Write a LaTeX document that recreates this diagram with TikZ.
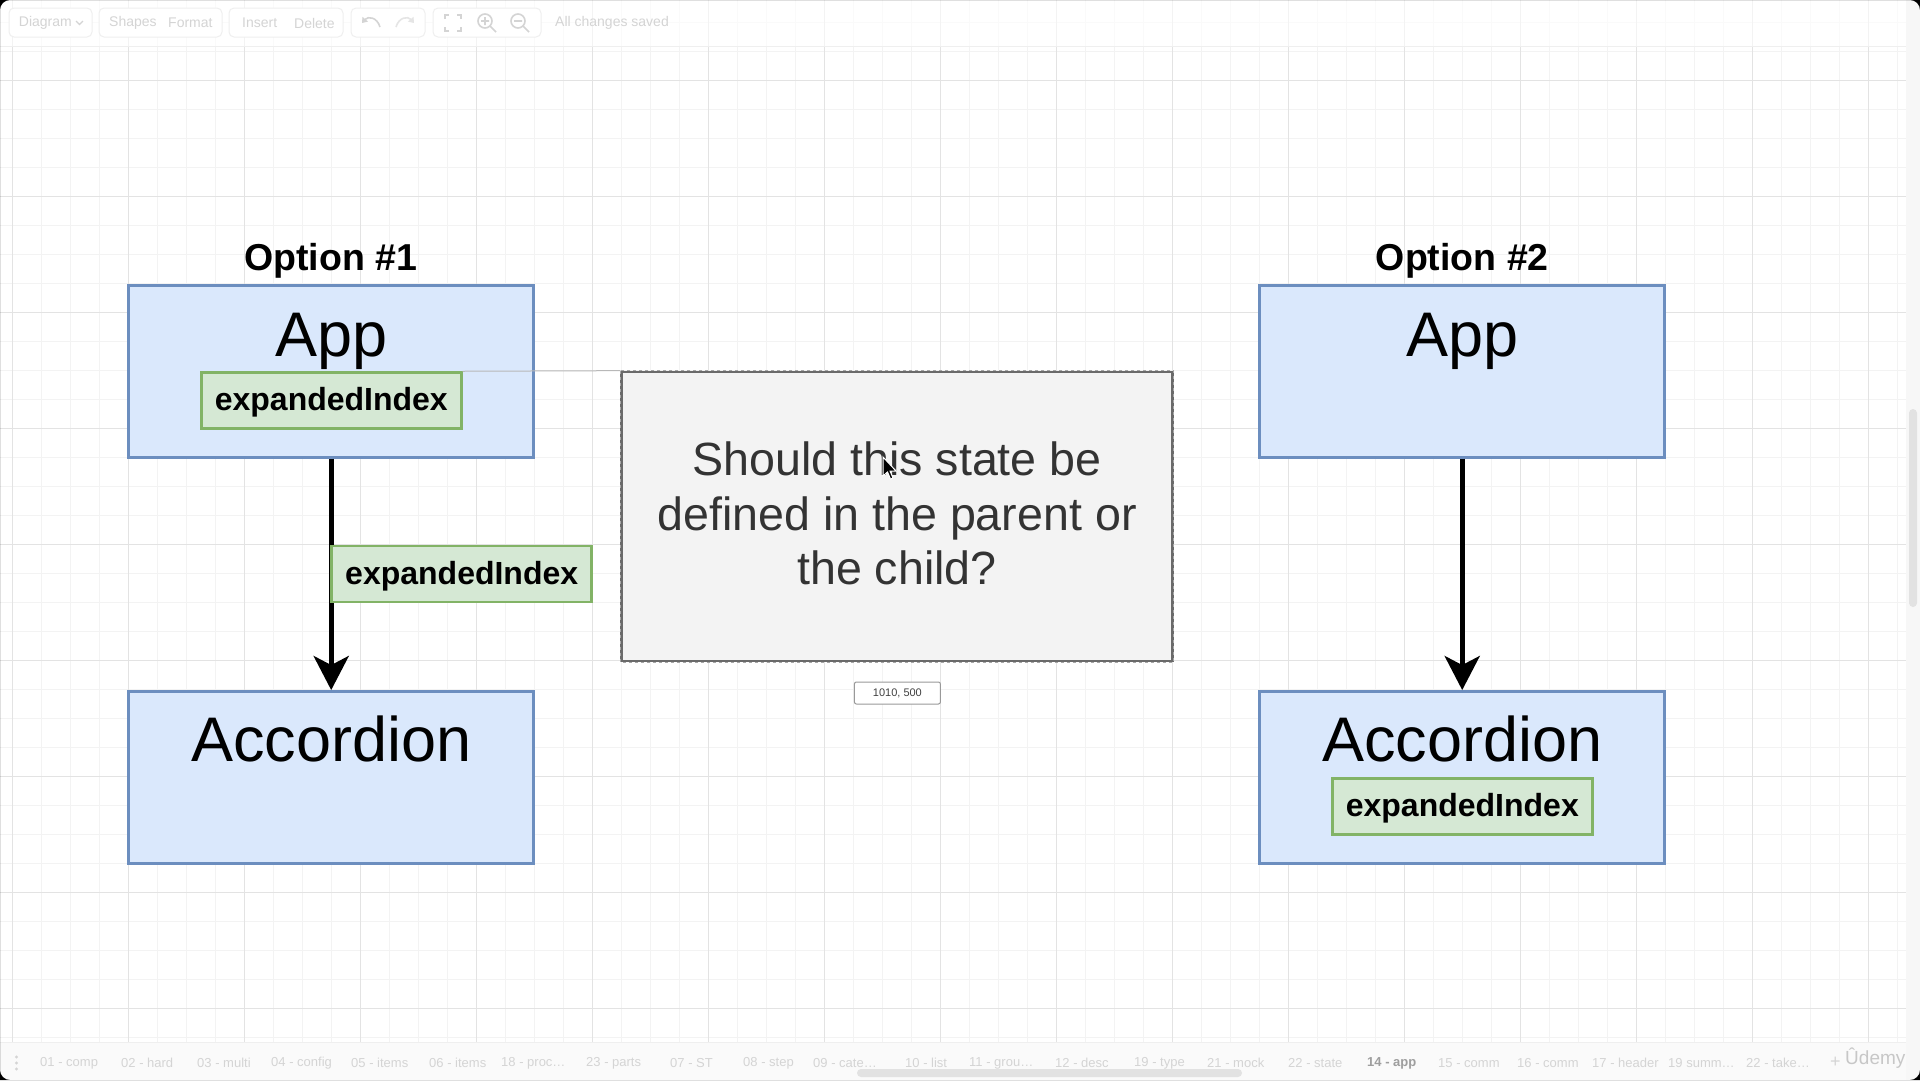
\documentclass[tikz,border=0pt]{standalone}
\usepackage{fontspec}
\setmainfont{Liberation Sans}
\usetikzlibrary{arrows.meta}

\definecolor{compfill}{HTML}{DAE8FC}
\definecolor{compline}{HTML}{6C8EBF}
\definecolor{statefill}{HTML}{D5E8D4}
\definecolor{stateline}{HTML}{82B366}
\definecolor{notefill}{HTML}{F3F3F3}
\definecolor{noteline}{HTML}{6A6A6A}
\definecolor{notetext}{HTML}{333333}
\definecolor{gridminor}{HTML}{F3F3F3}
\definecolor{gridmajor}{HTML}{E3E3E3}
\definecolor{uitext}{HTML}{D4D4D4}
\definecolor{uiline}{HTML}{EFEFEF}
\definecolor{barfill}{HTML}{E2E2E2}

\tikzset{
  comp/.style={draw=compline, fill=compfill, line width=2.5pt,
    minimum width=405pt, minimum height=172pt, inner sep=0pt},
  state/.style={draw=stateline, fill=statefill, line width=2.5pt,
    minimum width=260pt, minimum height=56pt, inner sep=0pt,
    text height=23pt, text depth=2.6pt,
    font=\fontsize{32}{38}\selectfont\bfseries},
  compname/.style={anchor=base, inner sep=0pt, font=\fontsize{63}{70}\selectfont},
  optname/.style={anchor=base, inner sep=0pt, font=\fontsize{37.5}{44}\selectfont\bfseries},
  flow/.style={line width=5pt, -{Stealth[length=34pt, width=35pt, inset=9pt]}},
  guide/.style={draw=black!28, line width=1pt},
  uilabel/.style={anchor=west, inner sep=0pt, text=uitext, font=\fontsize{14}{16}\selectfont},
  tablabel/.style={anchor=west, inner sep=0pt, text=uitext, font=\fontsize{13}{15}\selectfont},
  uibutton/.style={draw=uiline, fill=white, line width=1pt, rounded corners=5pt},
  uiicon/.style={draw=uitext, line width=1.6pt}
}

\begin{document}
\begin{tikzpicture}[x=1pt, y=-1pt]
\useasboundingbox (0,0) rectangle (1920,1080);
\fill[white] (0,0) rectangle (1920,1080);

% canvas grid
\foreach \i in {0,...,65}
  \draw[gridminor, line width=1pt] ({12.7+29*\i},0) -- ({12.7+29*\i},1042);
\foreach \i in {0,...,35}
  \draw[gridminor, line width=1pt] (0,{22.3+29*\i}) -- (1906,{22.3+29*\i});
\foreach \i in {0,...,16}
  \draw[gridmajor, line width=1pt] ({12.7+116*\i},0) -- ({12.7+116*\i},1042);
\foreach \i in {0,...,8}
  \draw[gridmajor, line width=1pt] (0,{80.3+116*\i}) -- (1906,{80.3+116*\i});

% toolbar
\fill[white, opacity=0.6] (0,0) rectangle (1906,46);
\draw[uiline, line width=1pt] (0,46) -- (1906,46);
\draw[uibutton] (9,8) rectangle (92,37);
\draw[uibutton] (99,8) rectangle (222,37);
\draw[uibutton] (229,8) rectangle (343,37);
\draw[uibutton] (351,8) rectangle (425,37);
\draw[uibutton] (433,8) rectangle (541,37);
\node[uilabel] (tbdiagram) at (18.7,23) {Diagram};
\draw[uiicon, line width=1.2pt] (76,21) -- (79.5,24.5) -- (83,21);
\node[uilabel] (tbshapes) at (109,23) {Shapes};
\node[uilabel] (tbformat) at (168,23) {Format};
\node[uilabel] (tbinsert) at (242,23) {Insert};
\node[uilabel] (tbdelete) at (294,23) {Delete};
\draw[uiicon, {Triangle[length=5pt, width=7pt]}-] (362,23) .. controls (368,16) and (377,17) .. (380,27);
\draw[uiicon, draw=black!10, {Triangle[length=5pt, width=7pt]}-] (414,23) .. controls (408,16) and (399,17) .. (396,27);
\draw[uiicon] (445,19) -- (445,15) -- (449,15) (457,15) -- (461,15) -- (461,19)
  (461,27) -- (461,31) -- (457,31) (449,31) -- (445,31) -- (445,27);
\draw[uiicon] (485,21) circle (7) (490,26) -- (496,32) (481,21) -- (489,21) (485,17) -- (485,25);
\draw[uiicon] (518,21) circle (7) (523,26) -- (529,32) (514,21) -- (522,21);
\node[uilabel] (tbsaved) at (555,23) {All changes saved};

% option 1
\node[optname] (opt1) at (330.6,270) {Option \#1};
\node[comp] (app1) at (331.2,371.3) {};
\node[compname] (app1name) at (331.2,356.7) {App};
\node[state] (st1) at (331.3,400.5) {expandedIndex};
\node[comp] (acc1) at (331.2,777.3) {};
\node[compname] (acc1name) at (331.2,761.7) {Accordion};
\draw[flow] (app1.south) -- (acc1.north);
\node[state] (lbl1) at (461.7,574.2) {expandedIndex};

% option 2
\node[optname] (opt2) at (1462.3,270) {Option \#2};
\node[comp] (app2) at (1462.2,371.3) {};
\node[compname] (app2name) at (1462.2,356.7) {App};
\node[comp] (acc2) at (1462.2,777.3) {};
\node[compname] (acc2name) at (1462.2,761.7) {Accordion};
\node[state] (st2) at (1462.3,806.7) {expandedIndex};
\draw[flow] (app2.south) -- (acc2.north);

% question note (selected)
\node[draw=noteline, fill=notefill, line width=2.5pt, minimum width=551pt,
  minimum height=289pt, inner sep=0pt] (q) at (897,516.4) {};
\draw[black!35, line width=0.8pt, dash pattern=on 3pt off 3pt] (q.north west) rectangle (q.south east);
\draw[guide] (st1.north east) -- (q.north west);
\node[anchor=center, align=center, inner sep=0pt, text=notetext,
  font=\fontsize{46.6}{54.5}\selectfont] (qtext) at (897,513.5)
  {Should this state be\\defined in the parent or\\the child?};
\node[draw=black!40, fill=white, rounded corners=2pt, line width=1pt,
  minimum width=86pt, minimum height=22pt, inner sep=0pt,
  font=\fontsize{11}{13}\selectfont, text=black!75] (pos) at (897.4,693) {1010, 500};

% mouse pointer
\draw[white, line width=1pt, fill=black] (883,457) -- (883,476) -- (887.5,472)
  -- (890.5,479) -- (893,478) -- (890,471) -- (896,471) -- cycle;

% right scroll strip
\fill[black!3] (1906,0) rectangle (1920,1080);
\fill[barfill, rounded corners=4pt] (1909,409) rectangle (1917,607);

% page tabs
\fill[black!2] (0,1042) rectangle (1906,1080);
\draw[uiline, line width=1pt] (0,1042) -- (1906,1042);
\foreach \d in {1057,1063,1069} \fill[uitext] (16.5,\d) circle (1.6);
\foreach \x/\t in {40/{01 - comp}, 121/{02 - hard}, 197/{03 - multi}, 271/{04 - config},
  351/{05 - items}, 429/{06 - items}, 501/{18 - proc\ldots}, 586/{23 - parts}, 670/{07 - ST},
  743/{08 - step}, 813/{09 - cate\ldots}, 905/{10 - list}, 969/{11 - grou\ldots}, 1055/{12 - desc},
  1134/{19 - type}, 1207/{21 - mock}, 1288/{22 - state}, 1438/{15 - comm}, 1517/{16 - comm},
  1592/{17 - header}, 1668/{19 summ\ldots}, 1746/{22 - take\ldots}}
  \node[tablabel] at (\x,1063) {\t};
\node[tablabel, text=black!38, font=\fontsize{13}{15}\selectfont\bfseries] (curtab) at (1367,1063) {14 - app};
\node[tablabel, font=\fontsize{18}{20}\selectfont] (addtab) at (1830,1062) {+};
\node[tablabel, text=black!22, font=\fontsize{19}{21}\selectfont] (logo) at (1845,1058) {Ûdemy};
\fill[barfill, rounded corners=4pt] (857,1069) rectangle (1242,1077);

% screen corners
\fill[black, even odd rule] (0,0) rectangle (1920,1080)
  [rounded corners=10pt] (0,0) rectangle (1920,1080);
\end{tikzpicture}
\end{document}
